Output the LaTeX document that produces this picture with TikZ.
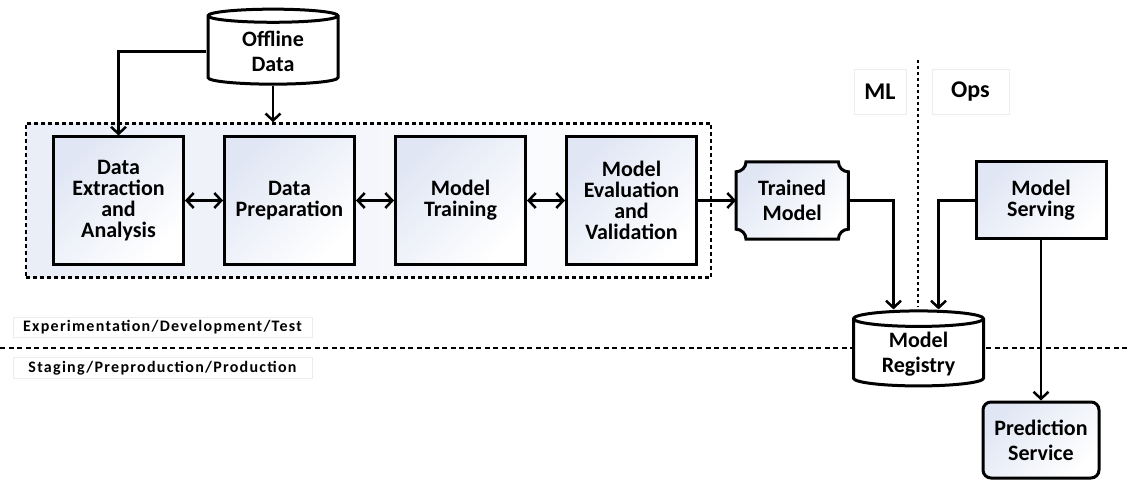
\documentclass[tikz,border=0pt]{standalone}
\usepackage{fontspec}
\setmainfont{Carlito}
\usetikzlibrary{positioning,shapes.geometric,fit,backgrounds,arrows.meta}
\definecolor{tint}{RGB}{224,230,244}
\definecolor{faint}{RGB}{236,236,240}

\tikzset{
  >={Straight Barb[length=7pt,width=15pt]},
  bigtext/.style={font=\bfseries\fontsize{22}{21}\selectfont},
  loosetext/.style={font=\bfseries\fontsize{22}{25}\selectfont},
  stagebox/.style={draw, line width=3pt, top color=tint, bottom color=white, shading angle=45,
    minimum width=130pt, minimum height=127pt, align=center, inner sep=2pt, bigtext},
  smallbox/.style={draw, line width=3pt, top color=tint, bottom color=white, shading angle=45,
    minimum width=130pt, minimum height=77pt, align=center, inner sep=2pt},
  store/.style={cylinder, shape border rotate=90, aspect=0.2, draw, line width=3pt, fill=white,
    minimum width=130pt, minimum height=75pt, align=center, inner sep=2pt, loosetext},
  tag/.style={draw=faint, line width=0.8pt, fill=white, minimum width=299pt, minimum height=19pt,
    font=\bfseries\fontsize{16}{17}\selectfont\addfontfeature{LetterSpace=8}},
  side/.style={draw=faint, line width=0.8pt, fill=white, minimum height=45pt,
    font=\bfseries\fontsize{24}{25}\selectfont},
  link/.style={line width=2.5pt}
}

\begin{document}
\begin{tikzpicture}[x=1pt, y=1pt]
    \useasboundingbox (0,0) rectangle (1130,480);

    % Experiment stages
    \node[stagebox] (dea) at (118.5,279.5) {Data\\Extraction\\and\\Analysis};
    \node[stagebox, right=38pt of dea] (dpr) {Data\\Preparation};
    \node[stagebox, right=38pt of dpr] (mtr) {Model\\Training};
    \node[stagebox, right=38pt of mtr] (mev) {Model\\Evaluation\\and\\Validation};

    % Trained model (concave corners drawn behind)
    \node[minimum width=112pt, minimum height=77pt, align=center, loosetext, right=38pt of mev] (tm) {Trained\\Model};

    % Stores
    \node[store] (off) at (273,428.5) {Offline\\Data};
    \node[store] (reg) at (918.5,126) {Model\\Registry};

    % Ops side
    \node[smallbox, bigtext] (ms) at (1041,279.5) {Model\\Serving};
    \node[draw, line width=3pt, top color=tint, bottom color=white, shading angle=45, rounded corners=8pt,
      minimum width=116pt, minimum height=76pt, align=center, loosetext] (ps) at (1041,40) {Prediction\\Service};

    % Labels
    \node[side, minimum width=52pt] (ml) at (880,388.5) {ML};
    \node[side, minimum width=77pt] (ops) at (970.5,388.5) {Ops};
    \node[tag] (exp) at (162.5,152.5) {Experimentation/Development/Test};
    \node[tag] (stg) at (162.5,112) {Staging/Preproduction/Production};

    \begin{scope}[on background layer]
      % Frame round the stages
      \node[draw, line width=2.5pt, dash pattern=on 4pt off 3pt, left color=tint!70, right color=white,
        inner ysep=12pt, inner xsep=13pt, fit={([xshift=-13pt]dea.west) (dea) (mev)}] (frame) {};
      % Concave corner box
      \draw[line width=3pt, top color=tint, bottom color=white, shading angle=45]
        ([xshift=10pt]tm.north west) -- ([xshift=-10pt]tm.north east)
        arc[start angle=180, end angle=270, radius=10pt] -- ([yshift=10pt]tm.south east)
        arc[start angle=90, end angle=180, radius=10pt] -- ([xshift=10pt]tm.south west)
        arc[start angle=0, end angle=90, radius=10pt] -- ([yshift=-10pt]tm.north west)
        arc[start angle=270, end angle=360, radius=10pt] -- cycle;
      % Environment split
      \draw[line width=2.5pt, dash pattern=on 5pt off 3.5pt] (0,132) coordinate (lft) -- (1130,132) coordinate (rgt);
      \draw[line width=2.5pt, dash pattern=on 3pt off 3pt] (918,420) coordinate (top) -- (918,173) coordinate (bot);
    \end{scope}

    % Connectors
    \draw[link, ->] (off.west) -| (dea.north);
    \draw[link, ->] (off.south) -- (off.south |- frame.north);
    \foreach \a/\b in {dea/dpr, dpr/mtr, mtr/mev}
      \draw[link, <->] (\a) -- (\b);
    \draw[link, ->] (mev) -- (tm);
    \draw[link, ->] (tm.east) -| ([xshift=-25pt]reg.north);
    \draw[link, ->] (ms.west) -| ([xshift=20pt]reg.north);
    \draw[link, ->] (ms) -- (ps);
\end{tikzpicture}
\end{document}
